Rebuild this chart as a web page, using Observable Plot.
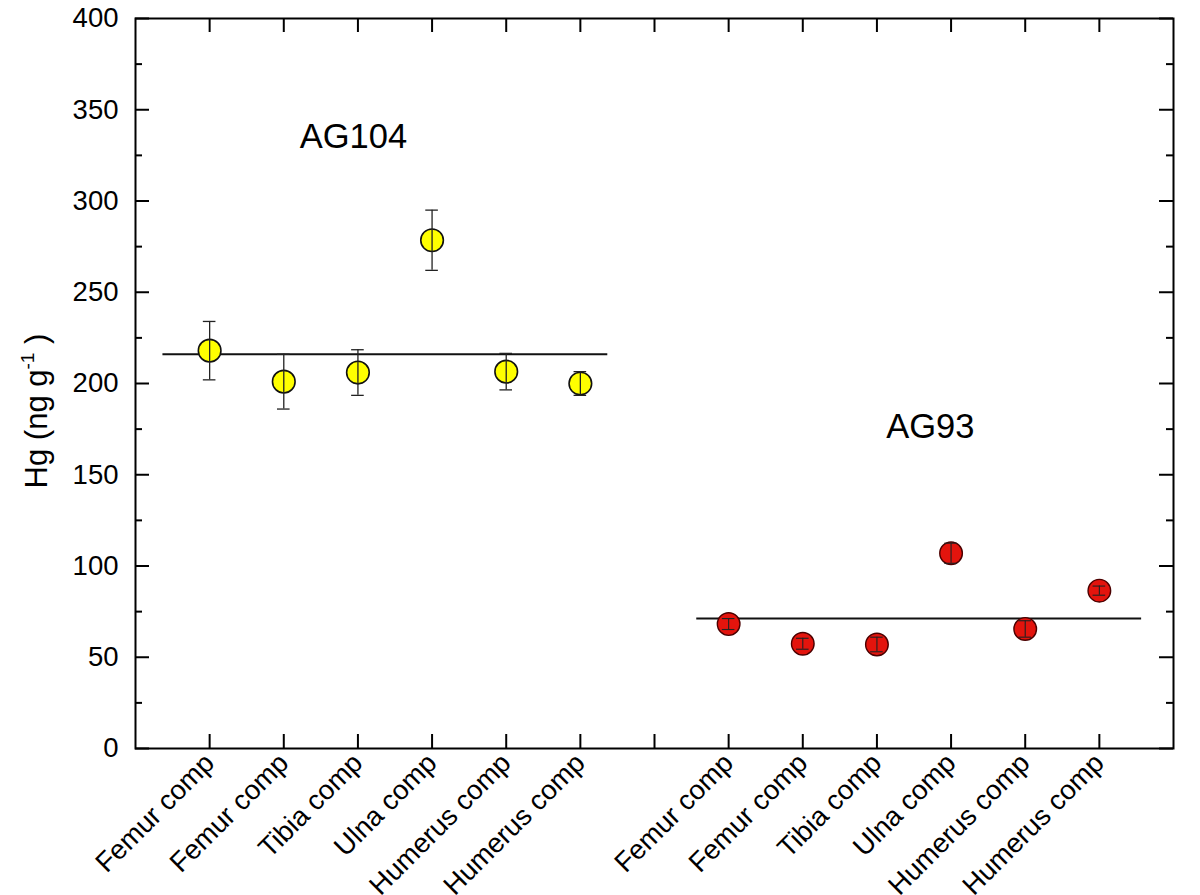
<!DOCTYPE html>
<html>
<head>
<meta charset="utf-8">
<script src="https://cdn.jsdelivr.net/npm/d3@7"></script>
<script src="https://cdn.jsdelivr.net/npm/@observablehq/plot@0.6"></script>
<style>
  html, body { margin: 0; padding: 0; background: #fff; }
  #chart svg { display: block; }
</style>
</head>
<body>
<div id="chart"></div>
<script>
// ---- data ----
const boneLabels = ["Femur comp", "Femur comp", "Tibia comp", "Ulna comp", "Humerus comp", "Humerus comp"];
const ag104Positions = [1, 2, 3, 4, 5, 6];
const ag93Positions = [8, 9, 10, 11, 12, 13];
const ag104Values = [218, 201, 206, 278.5, 206.5, 200];
const ag104Errors = [16, 15, 12.5, 16.5, 10, 6.5];
const ag93Values = [68.2, 57.4, 57, 107, 65.5, 86.5];
const ag93Errors = [3, 3, 4, 5.5, 4.5, 2.5];
const meanLines = [
  {group: "AG104", value: 216, x1: 0.37, x2: 6.37},
  {group: "AG93", value: 71.2, x1: 7.57, x2: 13.57}
];
const groupLabels = [
  {text: "AG104", x: 2.94, y: 335},
  {text: "AG93", x: 10.72, y: 176}
];
const xTickPositions = [1, 2, 3, 4, 5, 6, 7, 8, 9, 10, 11, 12, 13];
const yMajorTicks = [0, 50, 100, 150, 200, 250, 300, 350, 400];
const yMinorTicks = [25, 75, 125, 175, 225, 275, 325, 375];

// ---- tables ----
const ag104 = ag104Positions.map((p, i) => ({x: p, v: ag104Values[i], e: ag104Errors[i]}));
const ag93 = ag93Positions.map((p, i) => ({x: p, v: ag93Values[i], e: ag93Errors[i]}));
const labelAt = new Map();
ag104Positions.forEach((p, i) => labelAt.set(p, boneLabels[i]));
ag93Positions.forEach((p, i) => labelAt.set(p, boneLabels[i]));

const W = 1200, H = 895, ML = 135, MR = 27, MT = 18, MB = 147;
const innerW = W - ML - MR, innerH = H - MT - MB;
const capHalf = 0.085;

function errMarks(data, sw) {
  return [
    Plot.ruleX(data, {x: "x", y1: d => d.v - d.e, y2: d => d.v + d.e, stroke: "#222", strokeWidth: sw}),
    Plot.ruleY(data, {y: d => d.v + d.e, x1: d => d.x - capHalf, x2: d => d.x + capHalf, stroke: "#222", strokeWidth: sw}),
    Plot.ruleY(data, {y: d => d.v - d.e, x1: d => d.x - capHalf, x2: d => d.x + capHalf, stroke: "#222", strokeWidth: sw})
  ];
}

const chart = Plot.plot({
  width: W, height: H,
  marginLeft: ML, marginRight: MR, marginTop: MT, marginBottom: MB,
  style: {fontFamily: "'Liberation Sans', Arial, sans-serif", fontSize: "27px", color: "black", background: "white"},
  x: {domain: [0, 14]},
  y: {domain: [0, 400]},
  marks: [
    // mean lines
    Plot.ruleY(meanLines, {y: "value", x1: "x1", x2: "x2", stroke: "#111", strokeWidth: 2}),
    // points
    Plot.dot(ag104, {x: "x", y: "v", r: 11.3, fill: "#ffff00", stroke: "#111", strokeWidth: 1.6}),
    ...errMarks(ag104, 1.3),
    Plot.dot(ag93, {x: "x", y: "v", r: 11.3, fill: "#e3140d", stroke: "#4a0000", strokeWidth: 1.4}),
    ...errMarks(ag93, 1.1),
    // group labels
    Plot.text(groupLabels, {x: "x", y: "y", text: "text", fontSize: 34.5, fill: "black", textAnchor: "middle"}),
    // inward ticks
    Plot.tickX(xTickPositions, {x: d => d, insetTop: innerH - 14, stroke: "black", strokeWidth: 2}),
    Plot.tickX(xTickPositions, {x: d => d, insetBottom: innerH - 14, stroke: "black", strokeWidth: 2}),
    Plot.tickY(yMajorTicks, {y: d => d, insetRight: innerW - 14, stroke: "black", strokeWidth: 2}),
    Plot.tickY(yMinorTicks, {y: d => d, insetRight: innerW - 7, stroke: "black", strokeWidth: 2}),
    Plot.tickY(yMajorTicks, {y: d => d, insetLeft: innerW - 14, stroke: "black", strokeWidth: 2}),
    Plot.tickY(yMinorTicks, {y: d => d, insetLeft: innerW - 7, stroke: "black", strokeWidth: 2}),
    // axes labels
    Plot.axisY(yMajorTicks, {tickSize: 0, tickPadding: 17, label: null, fontSize: 27.5}),
    Plot.axisX(xTickPositions, {tickSize: 0, tickRotate: -45, tickPadding: 10, label: null, fontSize: 27.5,
      tickFormat: d => labelAt.get(d) || ""}),
    Plot.frame({stroke: "black", strokeWidth: 2})
  ]
});

document.getElementById("chart").appendChild(chart);

// y-axis title with superscript
const svg = d3.select(chart);
const t = svg.append("text")
  .attr("transform", "translate(47,411) rotate(-90)")
  .attr("text-anchor", "middle")
  .attr("font-family", "'Liberation Sans', Arial, sans-serif")
  .attr("font-size", 31)
  .attr("fill", "black");
t.append("tspan").text("Hg (ng g");
t.append("tspan").attr("font-size", 19).attr("dy", -13).text("-1");
t.append("tspan").attr("dy", 13).text(" )");
</script>
</body>
</html>
